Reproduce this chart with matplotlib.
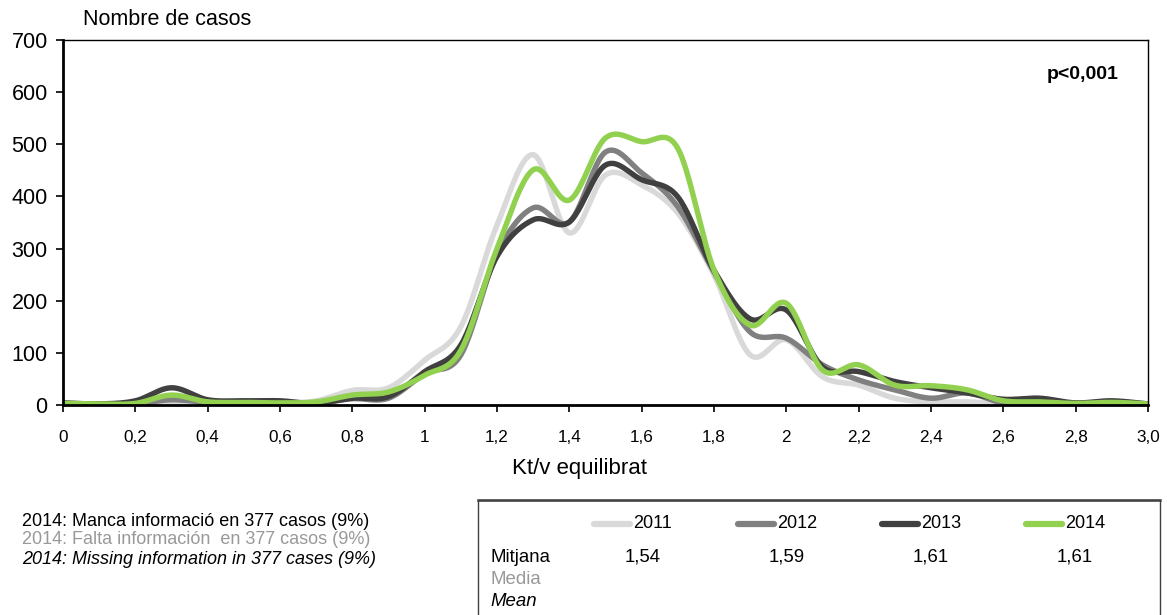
import numpy as np
import matplotlib
matplotlib.use('Agg')
import matplotlib.pyplot as plt
from matplotlib.lines import Line2D
from matplotlib.patches import Rectangle

plt.rcParams['font.family'] = ['Liberation Sans', 'DejaVu Sans']

# Kt/v equilibrat, classes de 0,1
ktv = np.round(np.arange(0, 3.01, 0.1), 1)

casos_2011 = [3, 2, 2, 5, 3, 4, 4, 8, 28, 33, 86, 150, 345, 480, 330, 441, 422, 368,
              249, 96, 125, 54, 38, 13, 6, 6, 2, 2, 2, 2, 1]
casos_2012 = [3, 2, 2, 10, 5, 5, 5, 4, 12, 13, 60, 96, 290, 378, 351, 485, 445, 380,
              255, 140, 128, 77, 48, 29, 13, 23, 4, 4, 3, 4, 2]
casos_2013 = [4, 2, 8, 33, 10, 8, 8, 3, 13, 16, 64, 115, 285, 355, 351, 460, 432, 399,
              258, 165, 182, 73, 64, 45, 33, 23, 11, 13, 4, 8, 2]
casos_2014 = [3, 2, 3, 19, 6, 5, 4, 6, 19, 25, 57, 105, 300, 451, 393, 512, 505, 492,
              259, 153, 195, 67, 77, 38, 37, 29, 8, 6, 3, 5, 2]

anys = ['2011', '2012', '2013', '2014']
mitjanes = ['1,54', '1,59', '1,61', '1,61']
colors = ['#d9d9d9', '#808080', '#404040', '#92d050']

xticks = [0, 0.2, 0.4, 0.6, 0.8, 1.0, 1.2, 1.4, 1.6, 1.8, 2.0, 2.2, 2.4, 2.6, 2.8, 3.0]
xtick_labels = ['0', '0,2', '0,4', '0,6', '0,8', '1', '1,2', '1,4', '1,6', '1,8',
                '2', '2,2', '2,4', '2,6', '2,8', '3,0']


def suavitza(x, y, n=24):
    # corba suau tipus Excel (Bezier amb tangents Catmull-Rom)
    pts = np.column_stack([x, y]).astype(float)
    ext = np.vstack([pts[0], pts, pts[-1]])
    t = np.linspace(0, 1, n, endpoint=False)[:, None]
    trams = []
    for i in range(len(pts) - 1):
        p0, p1, p2, p3 = ext[i:i + 4]
        c1 = p1 + (p2 - p0) / 6
        c2 = p2 - (p3 - p1) / 6
        trams.append((1 - t) ** 3 * p1 + 3 * (1 - t) ** 2 * t * c1
                     + 3 * (1 - t) * t ** 2 * c2 + t ** 3 * p2)
    trams.append(pts[-1:])
    c = np.vstack(trams)
    return c[:, 0], c[:, 1]


fig = plt.figure(figsize=(11.67, 6.15), dpi=100)
ax = fig.add_axes([0.054, 0.3415, 0.9297, 0.5935])

for casos, col in zip([casos_2011, casos_2012, casos_2013, casos_2014], colors):
    sx, sy = suavitza(ktv, casos)
    ax.plot(sx, sy, color=col, lw=3.9, solid_capstyle='round')

ax.set_xlim(0, 3.0)
ax.set_ylim(0, 700)
ax.set_yticks(range(0, 701, 100))
ax.set_xticks(xticks)
ax.set_xticklabels(xtick_labels)
ax.tick_params(axis='y', labelsize=15.5, direction='out', length=5, width=1.2, pad=6)
ax.tick_params(axis='x', labelsize=12.3, direction='out', length=5, width=1.2, pad=13)
for s in ['left', 'bottom']:
    ax.spines[s].set_linewidth(2)
for s in ['top', 'right']:
    ax.spines[s].set_linewidth(1)

fig.text(0.071, 0.969, 'Nombre de casos', fontsize=15.5, va='center', ha='left')
fig.text(0.497, 0.239, 'Kt/v equilibrat', fontsize=16, va='center', ha='center')
ax.text(0.973, 0.905, 'p<0,001', transform=ax.transAxes, fontsize=14,
        fontweight='bold', ha='right', va='center')

# notes
notes = [('2014: Manca informació en 377 casos (9%)', 'black', 'normal'),
         ('2014: Falta información  en 377 casos (9%)', '#999999', 'normal'),
         ('2014: Missing information in 377 cases (9%)', 'black', 'italic')]
for i, (txt, col, st) in enumerate(notes):
    fig.text(0.019, 1 - (521 + 19 * i) / 615, txt, fontsize=13, color=col,
             style=st, va='center', ha='left')

# taula de mitjanes
box = Rectangle((478 / 1167, -0.05), (1160 - 478) / 1167, 0.05 + (615 - 500) / 615,
                transform=fig.transFigure, fill=False, edgecolor='#404040', lw=1,
                clip_on=False)
fig.patches.append(box)
fig.add_artist(Line2D([478 / 1167, 1160 / 1167], [1 - 500 / 615] * 2,
                      color='#404040', lw=1.8, transform=fig.transFigure))

mostra_x = [594, 738, 882, 1026]
for x0, any_, col, m in zip(mostra_x, anys, colors, mitjanes):
    yl = 1 - 524 / 615
    fig.add_artist(Line2D([x0 / 1167, (x0 + 36) / 1167], [yl, yl], color=col,
                          lw=4.5, solid_capstyle='round', transform=fig.transFigure))
    fig.text((x0 + 39) / 1167, yl, any_, fontsize=13, va='center', ha='left')
    fig.text((x0 + 49) / 1167, 1 - 557 / 615, m, fontsize=13.4, va='center', ha='center')

fig.text(490 / 1167, 1 - 557 / 615, 'Mitjana', fontsize=13.4, va='center', ha='left')
fig.text(490 / 1167, 1 - 579 / 615, 'Media', fontsize=13.4, va='center', ha='left',
         color='#999999')
fig.text(490 / 1167, 1 - 601 / 615, 'Mean', fontsize=13.4, va='center', ha='left',
         style='italic')

fig.savefig('out.png', dpi=100)
